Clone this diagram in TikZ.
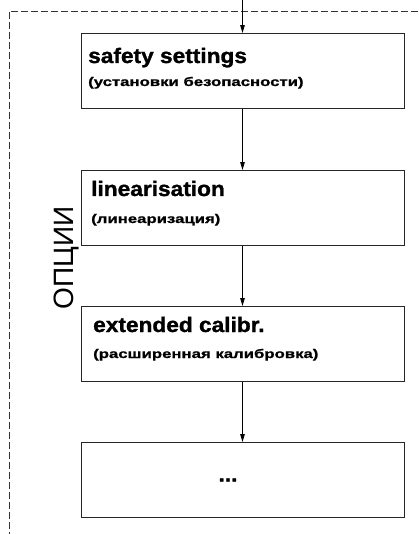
\documentclass[tikz,border=0pt]{standalone}
\usepackage{fontspec}
\setmainfont{Liberation Sans}
\newfontfamily\heavytitle[FakeBold=1.3,FakeStretch=1.08]{Liberation Sans Bold}
\newfontfamily\heavysub[FakeBold=1.0,FakeStretch=1.34]{Liberation Sans Bold}
\usetikzlibrary{arrows.meta}
\begin{document}
\begin{tikzpicture}[x=1pt,y=-1pt,
  stepbox/.style={draw=black!85,line width=0.9pt,minimum width=323pt,minimum height=75pt,inner sep=0pt},
  ttl/.style={anchor=base west,inner sep=0pt,font=\heavytitle\fontsize{21}{21}\selectfont},
  sub/.style={anchor=base west,inner sep=0pt,font=\heavysub\fontsize{12.5}{13}\selectfont},
  flow/.style={line width=0.8pt,-{Triangle[length=8pt,width=4.5pt]}},
  frame/.style={line width=0.8pt,dash pattern=on 7pt off 3pt,black!80}]
\useasboundingbox (0,0) rectangle (418,534);
\node[stepbox] (b1) at (242.5,71) {};
\node[stepbox] (b2) at (242.5,208) {};
\node[stepbox] (b3) at (242.5,344) {};
\node[stepbox] (b4) at (242.5,480) {};
\coordinate (top) at (242.5,0);
\draw[frame] (418,11) -- (9,11) -- (9,534);
\node[ttl] (t1) at (88,63) {safety settings};
\node[sub] (s1) at (88,86) {(установки безопасности)};
\node[ttl] (t2) at (91,196) {linearisation};
\node[sub] (s2) at (91,223) {(линеаризация)};
\node[ttl] (t3) at (93,332) {extended calibr.};
\node[sub] (s3) at (93,358) {(расширенная калибровка)};
\node[inner sep=0pt,font=\heavytitle\fontsize{21}{21}\selectfont] (t4) at (228,480) {...};
\node[rotate=90,inner sep=0pt,font=\fontsize{28}{28}\selectfont] (opt) at (67,258) {ОПЦИИ};
\draw[flow] (top) -- (b1.north);
\draw[flow] (b1.south) -- (b2.north);
\draw[flow] (b2.south) -- (b3.north);
\draw[flow] (b3.south) -- (b4.north);
\end{tikzpicture}
\end{document}
